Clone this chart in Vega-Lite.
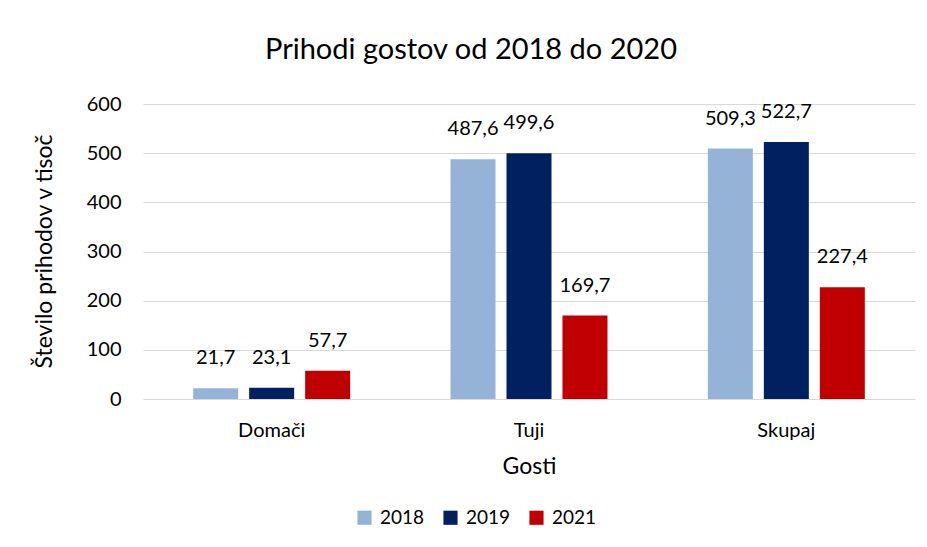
{
  "$schema": "https://vega.github.io/schema/vega-lite/v6.json",
  "autosize": "none",
  "width": 772,
  "height": 295,
  "padding": {"left": 143, "top": 104, "right": 12, "bottom": 148},
  "background": "white",
  "config": {
    "font": "Lato",
    "view": {"stroke": null},
    "locale": {"number": {"decimal": ",", "thousands": ".", "grouping": [3], "currency": ["", " €"]}}
  },
  "title": {
    "text": "Prihodi gostov od 2018 do 2020",
    "fontSize": 29,
    "fontWeight": "normal",
    "color": "#000000",
    "anchor": "middle",
    "dx": -58,
    "offset": 29
  },
  "data": {
    "values": [
      {"gosti": "Domači", "leto": "2018", "vrednost": 21.7},
      {"gosti": "Domači", "leto": "2019", "vrednost": 23.1},
      {"gosti": "Domači", "leto": "2021", "vrednost": 57.7},
      {"gosti": "Tuji", "leto": "2018", "vrednost": 487.6},
      {"gosti": "Tuji", "leto": "2019", "vrednost": 499.6},
      {"gosti": "Tuji", "leto": "2021", "vrednost": 169.7},
      {"gosti": "Skupaj", "leto": "2018", "vrednost": 509.3},
      {"gosti": "Skupaj", "leto": "2019", "vrednost": 522.7},
      {"gosti": "Skupaj", "leto": "2021", "vrednost": 227.4}
    ]
  },
  "encoding": {
    "x": {
      "field": "gosti",
      "type": "nominal",
      "sort": ["Domači", "Tuji", "Skupaj"],
      "scale": {"paddingInner": 0.39, "paddingOuter": 0.195},
      "axis": {
        "title": "Gosti",
        "titleFontSize": 23,
        "titleFontWeight": "normal",
        "titleColor": "#000000",
        "titlePadding": 15,
        "labelAngle": 0,
        "labelFontSize": 20,
        "labelColor": "#000000",
        "labelPadding": 21,
        "ticks": false,
        "domain": false
      }
    },
    "xOffset": {
      "field": "leto",
      "type": "nominal",
      "scale": {"paddingInner": 0.196, "paddingOuter": 0}
    },
    "y": {
      "field": "vrednost",
      "type": "quantitative",
      "scale": {"domain": [0, 600]},
      "axis": {
        "title": "Število prihodov v tisoč",
        "titleFontSize": 23,
        "titleFontWeight": "normal",
        "titleColor": "#000000",
        "titleAngle": -90,
        "titleX": -99,
        "titleY": 147,
        "titleAlign": "center",
        "titleBaseline": "middle",
        "values": [0, 100, 200, 300, 400, 500, 600],
        "labelFontSize": 20,
        "labelColor": "#000000",
        "labelPadding": 22,
        "ticks": false,
        "domain": false,
        "gridColor": "#d9d9d9",
        "gridWidth": 1
      }
    }
  },
  "layer": [
    {
      "mark": {"type": "bar"},
      "encoding": {
        "color": {
          "field": "leto",
          "type": "nominal",
          "scale": {"domain": ["2018", "2019", "2021"], "range": ["#95b3d7", "#002060", "#c00000"]},
          "legend": {
            "title": null,
            "orient": "none",
            "direction": "horizontal",
            "legendX": 212,
            "legendY": 404,
            "symbolType": "square",
            "symbolSize": 200,
            "symbolStrokeWidth": 0,
            "labelFontSize": 19,
            "labelColor": "#000000",
            "columnPadding": 16,
            "labelOffset": 6
          }
        }
      }
    },
    {
      "mark": {"type": "text", "baseline": "middle", "dy": -30, "fontSize": 20, "color": "#000000"},
      "encoding": {
        "text": {"field": "vrednost", "type": "quantitative", "format": ".1f"}
      }
    }
  ]
}
